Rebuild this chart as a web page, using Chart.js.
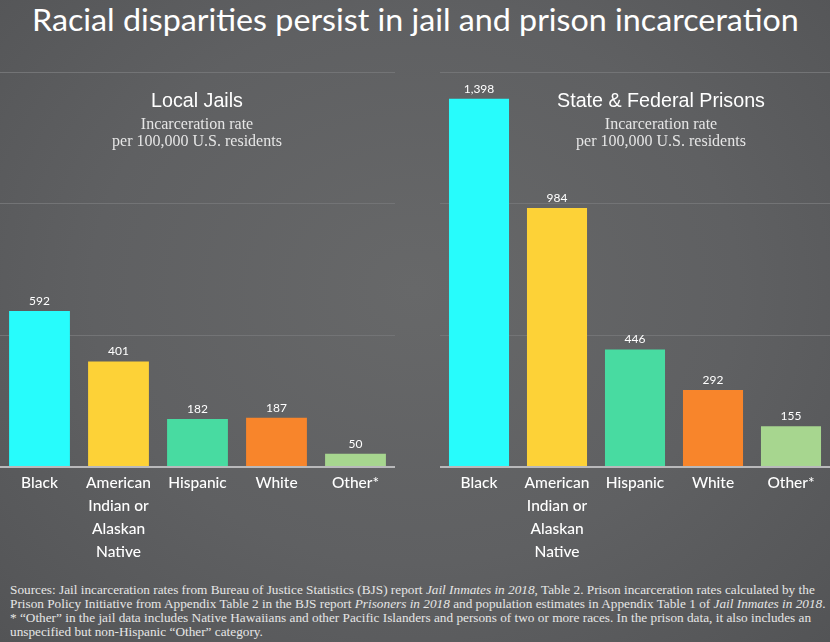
<!DOCTYPE html>
<html lang="en">
<head>
<meta charset="UTF-8">
<title>Racial disparities persist in jail and prison incarceration</title>
<script src="https://cdn.jsdelivr.net/npm/chart.js@4.4.1/dist/chart.umd.min.js"></script>
<style>
  html, body { margin: 0; padding: 0; }
  body {
    width: 830px; height: 642px; overflow: hidden; position: relative;
    background: radial-gradient(ellipse at 50% 45%, #676869 0%, #5f6062 55%, #535456 100%);
    color: #fff;
  }
  #title {
    position: absolute; left: 32px; top: 1px; white-space: nowrap;
    font: 30px Lato, sans-serif; transform-origin: 0 0;
  }
  .panel-title {
    position: absolute; width: 300px; text-align: center;
    font: 19.7px "Liberation Sans", Arial, sans-serif;
  }
  .panel-sub {
    position: absolute; width: 300px; text-align: center;
    font: 16px/17px "Liberation Serif", serif; color: #e6e6e6;
  }
  .box { position: absolute; top: 60px; height: 510px; }
  #footer {
    position: absolute; left: 10px; top: 583px; color: #e6e6e6;
    font: 12.5px/14px "Liberation Serif", serif; transform-origin: 0 0;
  }
  #footer div { white-space: nowrap; }
</style>
</head>
<body>
<div id="title">Racial disparities persist in jail and prison incarceration</div>

<div class="box" style="left:0; width:400px;"><canvas id="jails"></canvas></div>
<div class="box" style="left:436px; width:394px;"><canvas id="prisons"></canvas></div>

<div class="panel-title" style="left:47px; top:89px;">Local Jails</div>
<div class="panel-sub" style="left:47px; top:115px;">Incarceration rate<br>per 100,000 U.S. residents</div>
<div class="panel-title" style="left:511px; top:89px;">State &amp; Federal Prisons</div>
<div class="panel-sub" style="left:511px; top:115px;">Incarceration rate<br>per 100,000 U.S. residents</div>

<div id="footer">
  <div>Sources: Jail incarceration rates from Bureau of Justice Statistics (BJS) report <i>Jail Inmates in 2018</i>, Table 2. Prison incarceration rates calculated by the</div>
  <div>Prison Policy Initiative from Appendix Table 2 in the BJS report <i>Prisoners in 2018</i> and population estimates in Appendix Table 1 of <i>Jail Inmates in 2018</i>.</div>
  <div>* “Other” in the jail data includes Native Hawaiians and other Pacific Islanders and persons of two or more races. In the prison data, it also includes an</div>
  <div>unspecified but non-Hispanic “Other” category.</div>
</div>

<script>
const categories = [
  'Black',
  ['American', 'Indian or', 'Alaskan', 'Native'],
  'Hispanic',
  'White',
  'Other*'
];
const jailRates = [592, 401, 182, 187, 50];
const prisonRates = [1398, 984, 446, 292, 155];
const barColors = ['#27fcfc', '#fdd237', '#48dba1', '#f8852b', '#a7d68f'];
const yTicks = [0, 500, 1000, 1500];

// numbers above bars
const valueLabels = {
  id: 'valueLabels',
  afterDatasetsDraw(chart) {
    const ctx = chart.ctx;
    const meta = chart.getDatasetMeta(0);
    ctx.save();
    ctx.fillStyle = '#ffffff';
    ctx.font = '12px Lato, sans-serif';
    ctx.textAlign = 'center';
    ctx.textBaseline = 'bottom';
    meta.data.forEach((bar, i) => {
      ctx.fillText(chart.data.datasets[0].data[i].toLocaleString('en-US'), bar.x, bar.y - 4);
    });
    ctx.restore();
  }
};

function makeChart(id, values, padLeft, padRight) {
  return new Chart(document.getElementById(id), {
    type: 'bar',
    data: {
      labels: categories,
      datasets: [{
        data: values,
        backgroundColor: barColors,
        barPercentage: 0.77,
        categoryPercentage: 1
      }]
    },
    options: {
      responsive: true,
      maintainAspectRatio: false,
      animation: false,
      layout: { padding: { top: 12, left: padLeft, right: padRight, bottom: 0 } },
      plugins: { legend: { display: false }, tooltip: { enabled: false } },
      scales: {
        x: {
          grid: { display: false },
          border: { display: false },
          ticks: {
            color: '#ffffff',
            font: { family: 'Lato, sans-serif', size: 15.5, weight: '500', lineHeight: 1.5 },
            padding: -4,
            maxRotation: 0,
            autoSkip: false
          },
          afterFit(axis) { axis.height = 103; }
        },
        y: {
          min: yTicks[0],
          max: yTicks[yTicks.length - 1],
          afterBuildTicks(axis) { axis.ticks = yTicks.map(v => ({ value: v })); },
          ticks: { display: false },
          border: { display: false },
          grid: {
            drawTicks: false,
            lineWidth: c => (c.tick && c.tick.value === 0 ? 2 : 1),
            color: c => (c.tick && c.tick.value === 0 ? '#b9b9bb' : '#737476')
          },
          afterFit(axis) { axis.width = 0; }
        }
      }
    },
    plugins: [valueLabels]
  });
}

makeChart('jails', jailRates, 0, 5);
makeChart('prisons', prisonRates, 4, 0);

// squeeze title and footer to the width used in the picture
function fitWidth(el, target) {
  const w = el.scrollWidth;
  el.style.transform = 'scaleX(' + (target / w) + ')';
}
fitWidth(document.getElementById('title'), 767);
const footer = document.getElementById('footer');
const firstLine = footer.querySelector('div');
footer.style.transform = 'scaleX(' + (816 / firstLine.scrollWidth) + ')';
</script>
</body>
</html>
